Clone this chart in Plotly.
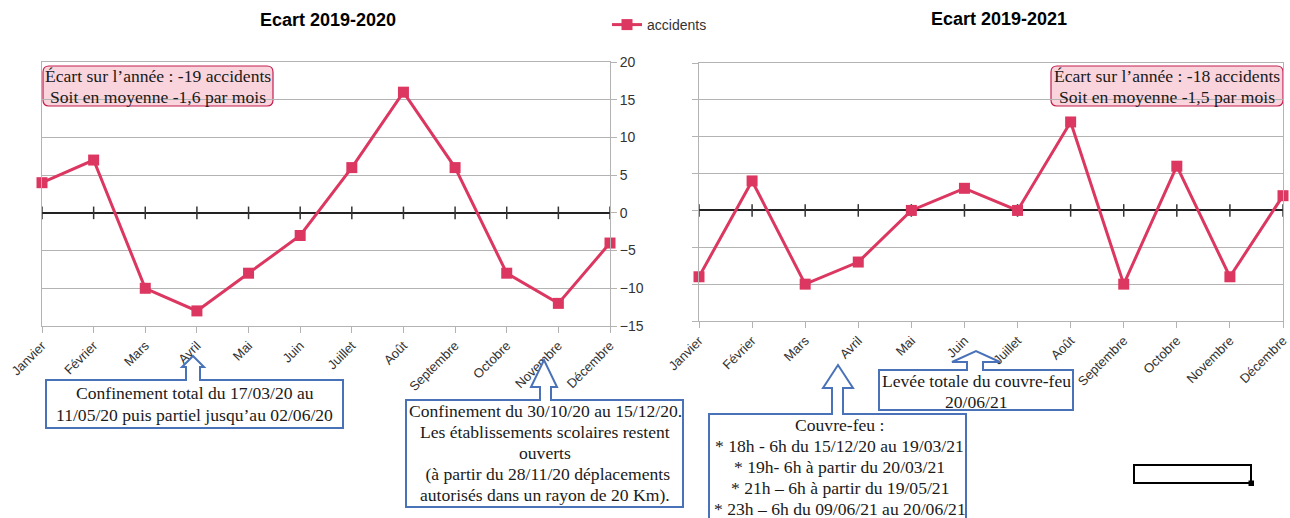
import plotly.graph_objects as go

W, H = 1290, 518

months = ["Janvier", "Février", "Mars", "Avril", "Mai", "Juin", "Juillet",
          "Août", "Septembre", "Octobre", "Novembre", "Décembre"]
ecart_2020 = [4, 7, -10, -13, -8, -3, 6, 16, 6, -8, -12, -4]
ecart_2021 = [-9, 4, -10, -7, 0, 3, 0, 12, -10, 6, -9, 2]
zero_ticks = [0] * 12
y_ticks = [-15, -10, -5, 0, 5, 10, 15, 20]

title_left = "Ecart 2019-2020"
title_right = "Ecart 2019-2021"
series_name = "accidents"
stat_left = ["Écart sur l’année : -19 accidents", "Soit en moyenne -1,6 par mois"]
stat_right = ["Écart sur l’année : -18 accidents", "Soit en moyenne -1,5 par mois"]
note_confinement1 = ["Confinement total du 17/03/20 au", "11/05/20 puis partiel jusqu’au 02/06/20"]
note_confinement2 = ["Confinement du 30/10/20 au 15/12/20.", "Les établissements scolaires restent",
                     "ouverts", " (à partir du 28/11/20 déplacements",
                     "autorisés dans un rayon de 20 Km)."]
note_couvrefeu = ["Couvre-feu :", "* 18h - 6h du 15/12/20 au 19/03/21", "* 19h- 6h à partir du 20/03/21",
                  "* 21h – 6h à partir du 19/05/21", "* 23h – 6h du 09/06/21 au 20/06/21"]
note_levee = ["Levée totale du couvre-feu", "20/06/21"]

RED = "#dc3760"
GRID = "#b3b3b3"
BLUE = "#4a72b8"
SANS = "Liberation Sans"
SERIF = "Liberation Serif"


def px(x):
    return x / W


def py(y):
    return 1 - y / H


fig = go.Figure()

for i, (vals, xa, ya) in enumerate([(ecart_2020, "x", "y"), (ecart_2021, "x2", "y2")]):
    fig.add_trace(go.Scatter(
        x=months, y=zero_ticks, xaxis=xa, yaxis=ya, mode="markers",
        marker=dict(symbol="line-ns", size=9, line=dict(width=1.5, color="#333333")),
        showlegend=False, hoverinfo="skip", cliponaxis=False))
    fig.add_trace(go.Scatter(
        x=months, y=vals, xaxis=xa, yaxis=ya, mode="lines+markers", name=series_name,
        line=dict(color=RED, width=3),
        marker=dict(symbol="square", size=11, color=RED),
        showlegend=(i == 0), cliponaxis=False))

xcommon = dict(type="category", range=[0, 11], showgrid=False, showline=True, mirror=True,
               linecolor=GRID, linewidth=1, ticks="outside", ticklen=6, tickcolor=GRID,
               tickangle=-45, tickfont=dict(family=SANS, size=13, color="#333333"),
               zeroline=False, automargin=False)
ycommon = dict(range=[-15, 20], tickvals=y_ticks, showgrid=True, gridcolor=GRID, gridwidth=1,
               showline=True, mirror=True, linecolor=GRID, linewidth=1,
               ticks="outside", ticklen=6, tickcolor=GRID,
               zeroline=True, zerolinecolor="#222222", zerolinewidth=2,
               tickfont=dict(family=SANS, size=14, color="#333333"), automargin=False)

fig.update_layout(
    width=W, height=H,
    margin=dict(l=0, r=0, t=0, b=0, autoexpand=False),
    paper_bgcolor="white", plot_bgcolor="white",
    xaxis=dict(xcommon, domain=[px(42), px(610)], anchor="y"),
    yaxis=dict(ycommon, domain=[py(326), py(62)], anchor="x", side="right"),
    xaxis2=dict(xcommon, domain=[px(699), px(1283)], anchor="y2"),
    yaxis2=dict(ycommon, domain=[py(321), py(63)], anchor="x2", side="left", showticklabels=False),
    showlegend=True,
    legend=dict(x=px(607), y=py(25), xanchor="left", yanchor="middle", orientation="h",
                font=dict(family=SANS, size=14, color="#333333"), bgcolor="rgba(0,0,0,0)",
                borderwidth=0),
)

annotations = [
    dict(text="<b>%s</b>" % title_left, x=px(328), y=py(20)),
    dict(text="<b>%s</b>" % title_right, x=px(999), y=py(19)),
]
for a in annotations:
    a.update(xref="paper", yref="paper", xanchor="center", yanchor="middle", showarrow=False,
             font=dict(family=SANS, size=18, color="#000000"))

# (lines, centre x, first line y, line step) in pixels
text_notes = [
    (stat_left, 158, 76.5, 20.5),
    (stat_right, 1167, 76.5, 20.5),
    (note_confinement1, 194.5, 393, 21.5),
    (note_confinement2, 545, 411, 21),
    (note_couvrefeu, 839.5, 425, 21),
    (note_levee, 976, 381, 20.5),
]
for lines, x, y0, step in text_notes:
    for k, line in enumerate(lines):
        annotations.append(dict(text=line, x=px(x), y=py(y0 + k * step), xref="paper", yref="paper",
                                xanchor="center", yanchor="middle", showarrow=False, align="center",
                                font=dict(family=SERIF, size=17.6, color="#1a1a1a")))
fig.update_layout(annotations=annotations)


def rounded_rect(x0, y0, x1, y1, r):
    pts = []
    pts.append("M %f,%f" % (px(x0 + r), py(y0)))
    pts.append("L %f,%f" % (px(x1 - r), py(y0)))
    pts.append("Q %f,%f %f,%f" % (px(x1), py(y0), px(x1), py(y0 + r)))
    pts.append("L %f,%f" % (px(x1), py(y1 - r)))
    pts.append("Q %f,%f %f,%f" % (px(x1), py(y1), px(x1 - r), py(y1)))
    pts.append("L %f,%f" % (px(x0 + r), py(y1)))
    pts.append("Q %f,%f %f,%f" % (px(x0), py(y1), px(x0), py(y1 - r)))
    pts.append("L %f,%f" % (px(x0), py(y0 + r)))
    pts.append("Q %f,%f %f,%f" % (px(x0), py(y0), px(x0 + r), py(y0)))
    pts.append("Z")
    return " ".join(pts)


def callout(x0, y0, x1, y1, sl, sr, hl, hr, hb, tx, ty):
    p = [(x0, y0), (sl, y0), (sl, hb), (hl, hb), (tx, ty), (hr, hb), (sr, hb), (sr, y0),
         (x1, y0), (x1, y1), (x0, y1)]
    return "M " + " L ".join("%f,%f" % (px(a), py(b)) for a, b in p) + " Z"


shapes = []
for (x0, y0, x1, y1) in [(43, 66, 273, 106), (1051, 66, 1283, 106)]:
    shapes.append(dict(type="path", path=rounded_rect(x0, y0, x1, y1, 6), xref="paper", yref="paper",
                       fillcolor="#f9d4dc", line=dict(color="#c41e4e", width=1.2), layer="below"))

callouts = [
    (46, 380, 343, 428, 186, 200, 182, 204, 367, 193, 356),
    (406, 400, 683, 507, 540, 551, 531, 557, 387, 544, 360),
    (709, 414, 966, 530, 832, 843, 823, 853, 388, 838, 365),
    (879, 370, 1073, 410, 967, 983, 952, 1000, 362, 976, 351),
]
for c in callouts:
    shapes.append(dict(type="path", path=callout(*c), xref="paper", yref="paper",
                       fillcolor="white", line=dict(color=BLUE, width=2), layer="above"))

shapes.append(dict(type="rect", x0=px(1134), x1=px(1251), y0=py(483), y1=py(465), xref="paper",
                   yref="paper", line=dict(color="black", width=2), fillcolor="white"))
shapes.append(dict(type="rect", x0=px(1248.5), x1=px(1254), y0=py(486), y1=py(480.5), xref="paper",
                   yref="paper", line=dict(width=0), fillcolor="black"))
fig.update_layout(shapes=shapes)

fig.write_html("out.html", config={"displayModeBar": False},
               post_script="document.body.style.margin='0';document.body.style.overflow='hidden';")
